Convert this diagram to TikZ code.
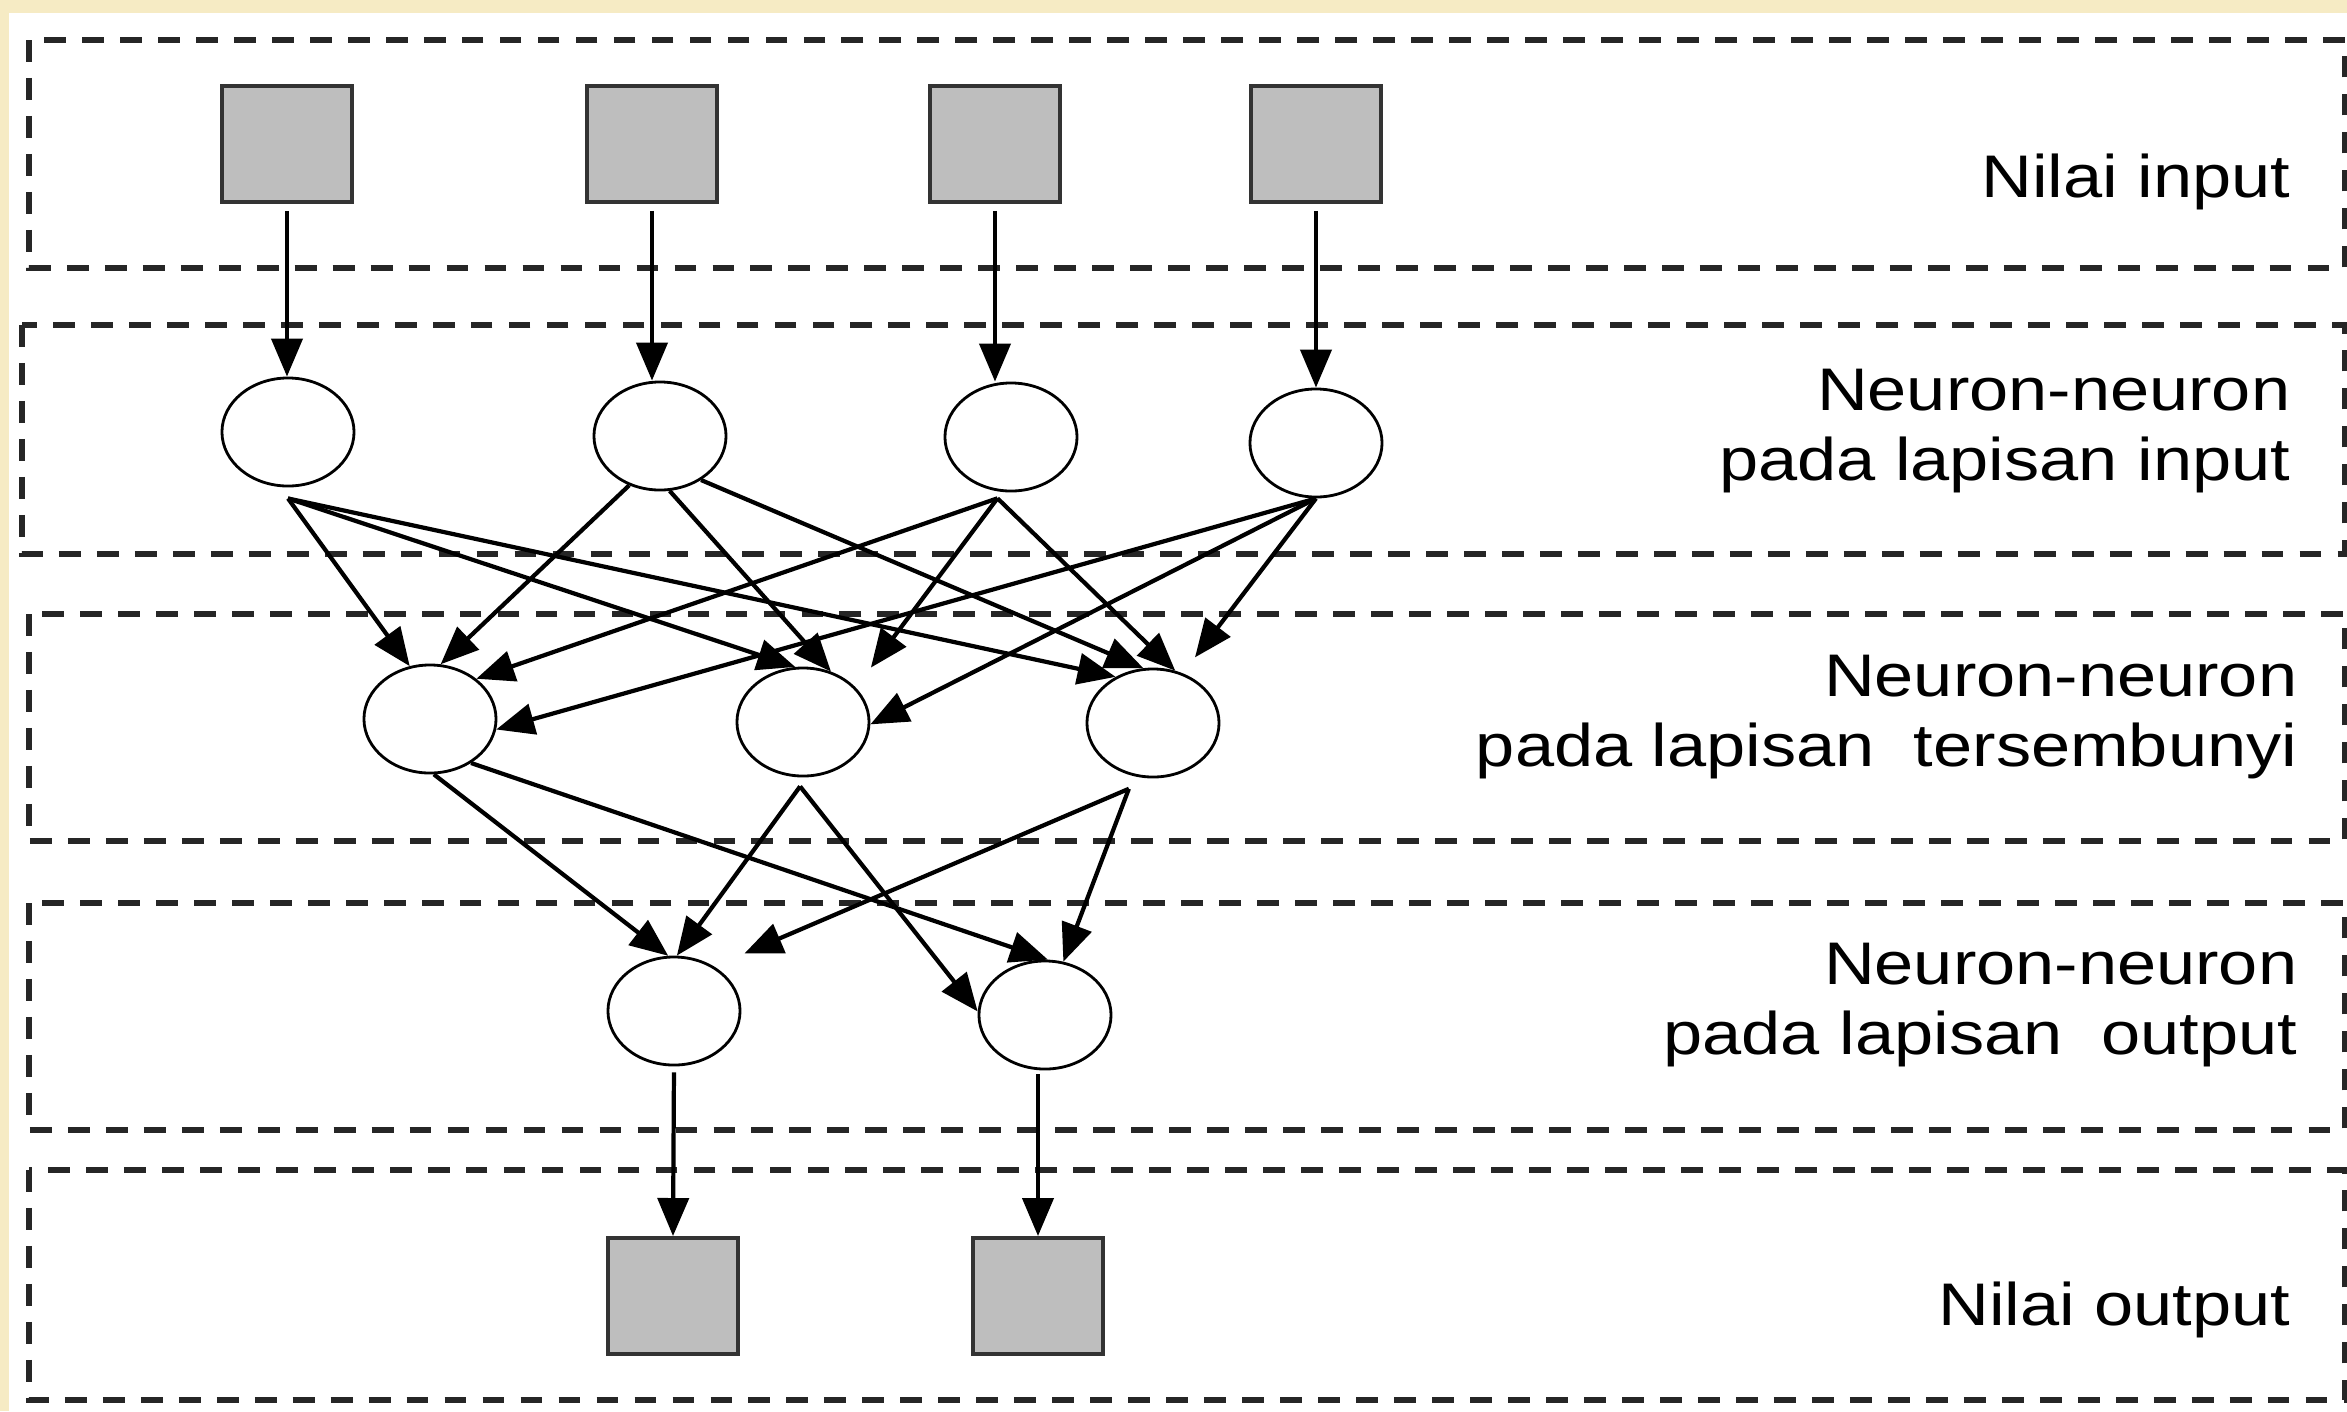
\documentclass[tikz,border=0pt]{standalone}
\usepackage{fontspec}
\newfontfamily\lblfont{Liberation Sans}[FakeStretch=1.17]
\usetikzlibrary{arrows.meta,shapes.geometric}
\definecolor{slideframe}{HTML}{F6EBC4}
\definecolor{boxgray}{HTML}{BEBEBE}

\begin{document}
\begin{tikzpicture}[x=0.01cm,y=-0.01cm]
  \tikzset{
    lapisan/.style={draw=black!85,line width=1.7pt,dash pattern=on 6.2pt off 4.6pt},
    nilai/.style={rectangle,draw=black!80,line width=1.1pt,fill=boxgray,
      minimum width=1.3cm,minimum height=1.16cm,inner sep=0pt},
    neuron/.style={ellipse,draw,line width=0.8pt,minimum width=1.32cm,
      minimum height=1.08cm,inner sep=0pt},
    panah/.style={-{Triangle[length=0.38cm,width=0.31cm]},line width=1.2pt},
    keterangan/.style={anchor=east,align=right,inner sep=0pt,
      font=\lblfont\fontsize{17.1}{19.8}\selectfont}
  }

  % halaman
  \useasboundingbox (0,0) rectangle (2347,1411);
  \fill[slideframe] (0,0) rectangle (2347,1411);
  \fill[white] (9,13) rectangle (2347,1411);

  % kotak lapisan
  \draw[lapisan] (29,40) rectangle (2345,268);
  \draw[lapisan] (22,325) rectangle (2345,554);
  \draw[lapisan] (29,614) rectangle (2345,841);
  \draw[lapisan] (29,903) rectangle (2345,1130);
  \draw[lapisan] (29,1170) rectangle (2345,1400);

  % keterangan
  \node[keterangan] (tin) at (2291,182) {Nilai input};
  \node[keterangan] (tli) at (2291,431) {Neuron-neuron\\pada lapisan input};
  \node[keterangan] (tlh) at (2298,717) {Neuron-neuron\\pada lapisan\ \ tersembunyi};
  \node[keterangan] (tlo) at (2298,1005) {Neuron-neuron\\pada lapisan\ \ output};
  \node[keterangan] (tout) at (2291,1310) {Nilai output};

  % nilai input
  \node[nilai] (x1) at (287,144) {};
  \node[nilai] (x2) at (652,144) {};
  \node[nilai] (x3) at (995,144) {};
  \node[nilai] (x4) at (1316,144) {};

  % neuron
  \node[neuron] (i1) at (288,432) {};
  \node[neuron] (i2) at (660,436) {};
  \node[neuron] (i3) at (1011,437) {};
  \node[neuron] (i4) at (1316,443) {};
  \node[neuron] (h1) at (430,719) {};
  \node[neuron] (h2) at (803,722) {};
  \node[neuron] (h3) at (1153,723) {};
  \node[neuron] (o1) at (674,1011) {};
  \node[neuron] (o2) at (1045,1015) {};

  % nilai output
  \node[nilai] (y1) at (673,1296) {};
  \node[nilai] (y2) at (1038,1296) {};

  % nilai input ke neuron input
  \foreach \n in {1,...,4}
    \draw (x\n.south) edge[panah,shorten <=0.07cm] (x\n.south |- i\n.north);

  % neuron input ke neuron tersembunyi
  \draw ([yshift=-0.11cm]i1.south) edge[panah] (h1.111)
                                   edge[panah] (h2.98)
                                   edge[panah] (h3.129);
  \draw (i2.-122) edge[panah] (h1.79);
  \draw (i2.-80) edge[panah] (h2.61);
  \draw (i2.-47) edge[panah] (h3.100);
  \draw ([yshift=-0.07cm]i3.-104) edge[panah] (h1.41)
                                  edge[panah,shorten >=0.25cm] (h2.33)
                                  edge[panah] (h3.67);
  \draw (i4.south) edge[panah] (h1.-9)
                   edge[panah] (h2.-2)
                   edge[panah,shorten >=0.2cm] (h3.59);

  % neuron tersembunyi ke neuron output
  \draw (h1.-86) edge[panah] (o1.96);
  \draw (h1.-47) edge[panah] (o2.87);
  \draw ([yshift=-0.09cm]h2.-93) edge[panah] (o1.87)
                                 edge[panah] (o2.177);
  \draw ([yshift=-0.14cm]h3.-115) edge[panah,shorten >=0.33cm] (o1.48)
                                  edge[panah] (o2.71);

  % neuron output ke nilai output
  \draw (o1.south) edge[panah,shorten <=0.06cm] (y1.north);
  \draw (y2.north |- o2.south) edge[panah,shorten <=0.04cm] (y2.north);
\end{tikzpicture}
\end{document}
